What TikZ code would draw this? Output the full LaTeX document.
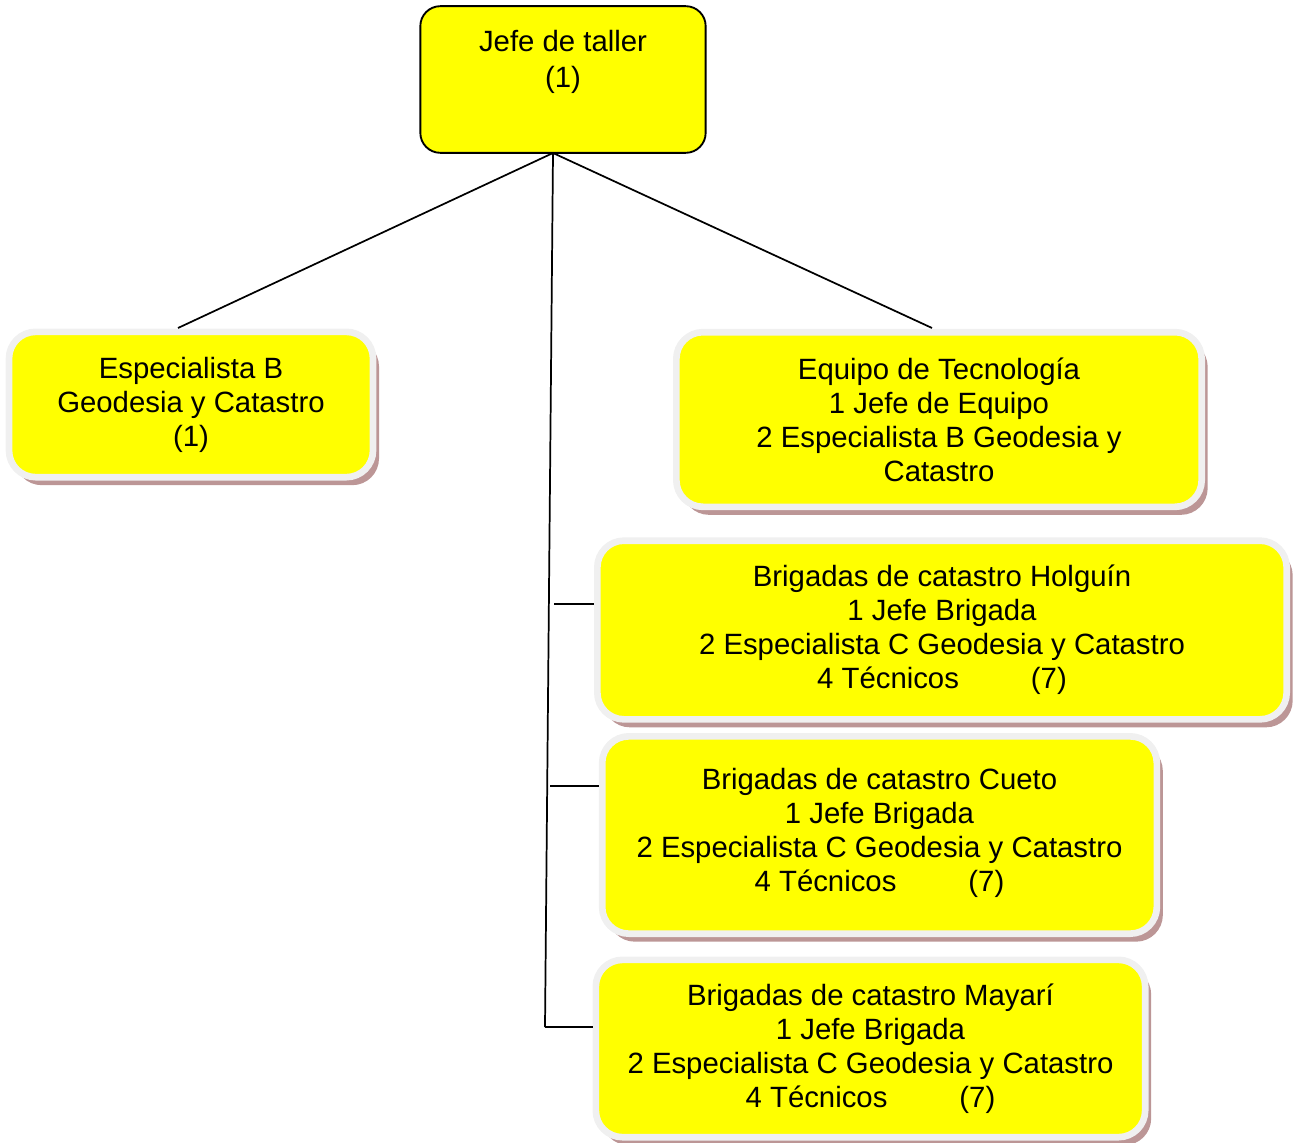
\documentclass[tikz,border=0pt]{standalone}
\usepackage{fontspec}
\setmainfont{Liberation Sans}
\usetikzlibrary{shadows}

\definecolor{amarillo}{RGB}{255,255,0}
\definecolor{sombra}{RGB}{188,150,150}
\definecolor{borde}{RGB}{240,240,240}

\tikzset{
    caja/.style={rectangle, rounded corners=20pt, fill=amarillo, draw=borde,
        line width=5pt, align=center, inner sep=0pt,
        font=\fontsize{22}{25.5}\selectfont,
        drop shadow={shadow xshift=4.5pt, shadow yshift=-6pt, fill=sombra, opacity=1}},
    jefe/.style={rectangle, rounded corners=15pt, fill=amarillo, draw=black,
        line width=1.4pt, align=center, inner sep=0pt,
        font=\fontsize{22}{27}\selectfont},
    linea/.style={draw=black, line width=1.3pt}
}

\begin{document}
\begin{tikzpicture}[x=0.75pt,y=-0.75pt]
    \useasboundingbox (0,0) rectangle (1298,1142);

    %jefe
    \node[jefe, minimum width=214pt, minimum height=110pt] (taller) at (563,79.5)
        {Jefe de taller\\(1)\\[4pt]~};

    %nivel 1
    \node[caja, minimum width=273pt, minimum height=109pt] (espB) at (191,404.5)
        {Especialista B\\Geodesia y Catastro\\(1)};
    \node[caja, minimum width=394pt, minimum height=131pt] (equipo) at (939,419.5)
        {Equipo de Tecnología\\1 Jefe de Equipo\\2 Especialista B Geodesia y\\Catastro};

    %brigadas
    \node[caja, minimum width=517pt, minimum height=134pt] (holguin) at (942,630)
        {Brigadas de catastro Holguín\\1 Jefe Brigada\\2 Especialista C Geodesia y Catastro\\4 Técnicos\hspace{54pt}(7)};
    \node[caja, minimum width=416pt, minimum height=148pt] (cueto) at (879.5,835)
        {Brigadas de catastro Cueto\\1 Jefe Brigada\\2 Especialista C Geodesia y Catastro\\4 Técnicos\hspace{54pt}(7)\\[-18pt]~};
    \node[caja, minimum width=412pt, minimum height=133pt] (mayari) at (870.5,1048.5)
        {Brigadas de catastro Mayarí\\1 Jefe Brigada\\2 Especialista C Geodesia y Catastro\\4 Técnicos\hspace{54pt}(7)};

    %puntos de union
    \coordinate (raiz) at (553,153);
    \coordinate (izq) at (178,328);
    \coordinate (der) at (932,328);
    \coordinate (pie) at (545,1027);
    \coordinate (h1) at (554,604);
    \coordinate (h2) at (550,786);

    \path[linea] (raiz) edge (izq);
    \path[linea] (raiz) edge (der);
    \path[linea] (raiz) edge (pie);
    \path[linea] (h1) edge (h1 -| holguin.west);
    \path[linea] (h2) edge (h2 -| cueto.west);
    \path[linea] (pie) edge (pie -| mayari.west);
\end{tikzpicture}
\end{document}
